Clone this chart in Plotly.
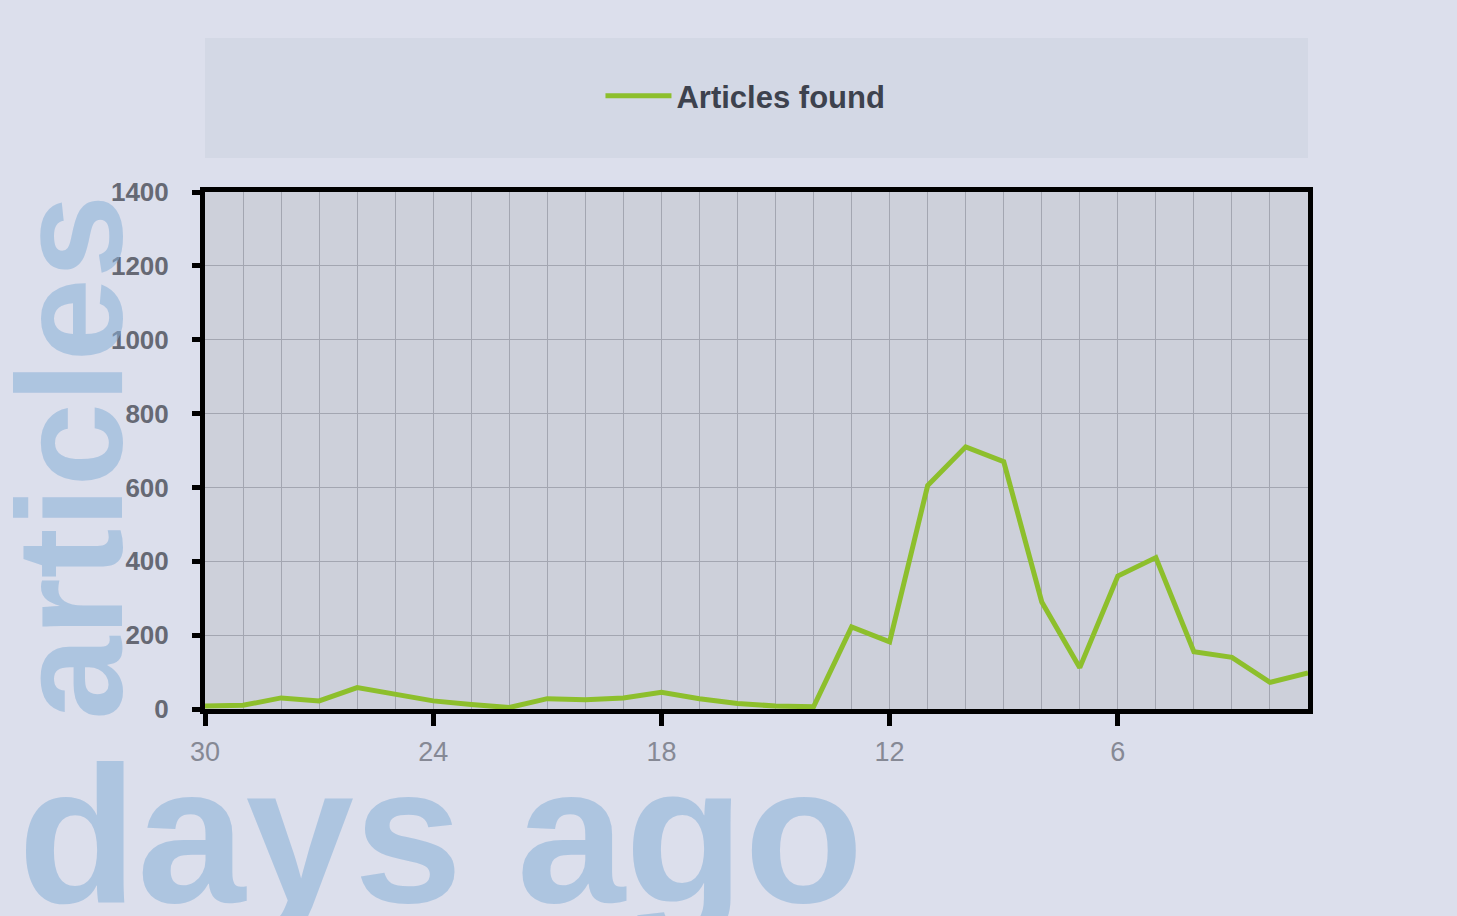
import plotly.graph_objects as go

days = list(range(30, 0, -1))
articles = [8, 10, 30, 22, 58, 40, 22, 12, 4, 28, 25, 30, 45, 28, 15, 8, 6,
            222, 182, 605, 710, 670, 290, 112, 360, 410, 155, 140, 72, 98]
series_name = "Articles found"
x_ticks = [30, 24, 18, 12, 6]
y_ticks = [0, 200, 400, 600, 800, 1000, 1200, 1400]

W, H = 1457, 916
ML, MR, MT, MB = 205, 149, 192, 207

fig = go.Figure()
fig.add_trace(go.Scatter(
    x=days, y=articles, mode="lines", name="<b>" + series_name + "</b>",
    line=dict(color="#8dbf2c", width=5),
    showlegend=True,
))

def px_x(p):
    return (p - ML) / (W - ML - MR)

def px_y(p):
    return (H - MB - p) / (H - MT - MB)

# legend band
fig.add_shape(type="rect", xref="paper", yref="paper",
              x0=px_x(205), x1=px_x(1308), y0=px_y(158), y1=px_y(38),
              fillcolor="#d3d8e5", line=dict(width=0), layer="below")

wm = "rgba(135,175,215,0.55)"
fig.add_annotation(text="<b>articles</b>", xref="paper", yref="paper",
                   x=px_x(70), y=px_y(458), textangle=-90, showarrow=False,
                   font=dict(family="Liberation Sans", size=150, color=wm),
                   xanchor="center", yanchor="middle")
fig.add_annotation(text="<b>days ago</b>", xref="paper", yref="paper",
                   x=px_x(16), y=px_y(834), showarrow=False,
                   font=dict(family="Liberation Sans", size=195, color=wm),
                   xanchor="left", yanchor="middle")

fig.update_layout(
    width=W, height=H,
    margin=dict(l=ML, r=MR, t=MT, b=MB, autoexpand=False),
    paper_bgcolor="#dcdfec",
    plot_bgcolor="#cdd0da",
    legend=dict(orientation="h", x=0.49, xanchor="center",
                y=px_y(96), yanchor="middle",
                bgcolor="rgba(0,0,0,0)", itemwidth=66,
                font=dict(family="Liberation Sans", size=31, color="#3d424e")),
    font=dict(family="Liberation Sans"),
)

fig.update_xaxes(
    range=[30, 1], autorange=False,
    tickmode="array", tickvals=x_ticks, ticktext=[str(v) for v in x_ticks],
    ticks="outside", ticklen=12, tickwidth=5, tickcolor="#000",
    ticklabelstandoff=3,
    tickfont=dict(size=27, color="#868995"),
    showline=True, linewidth=5, linecolor="#000", mirror=True,
    showgrid=False,
    minor=dict(dtick=1, tick0=0, showgrid=True, gridcolor="#a3a6b1", gridwidth=1, ticks=""),
    zeroline=False,
)
fig.update_yaxes(
    range=[0, 1400], autorange=False,
    tickmode="array", tickvals=y_ticks, ticktext=["<b>%d</b>" % v for v in y_ticks],
    ticks="outside", ticklen=8, tickwidth=5, tickcolor="#000",
    ticklabelstandoff=18,
    tickfont=dict(size=26, color="#666974"),
    showline=True, linewidth=5, linecolor="#000", mirror=True,
    showgrid=True, gridcolor="#a3a6b1", gridwidth=1,
    zeroline=False,
)

fig.write_html("out.html")
